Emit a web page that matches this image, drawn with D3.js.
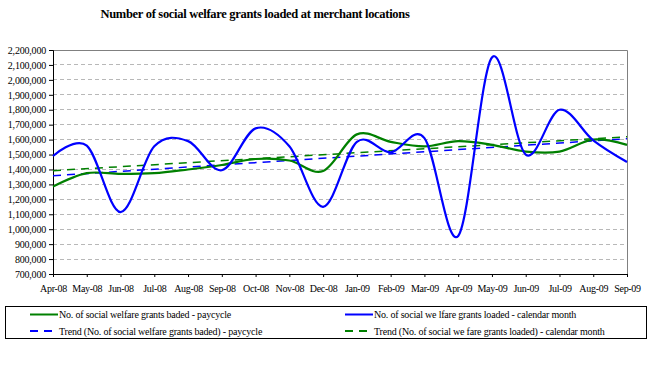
<!DOCTYPE html>
<html><head><meta charset="utf-8">
<script src="https://cdn.jsdelivr.net/npm/d3@7"></script>
<style>
body{margin:0;background:#fff;}
svg{display:block;font-family:"Liberation Serif","Times New Roman",serif;}
</style></head>
<body><svg id="c" width="662" height="366"></svg>
<script>
const months = ["Apr-08","May-08","Jun-08","Jul-08","Aug-08","Sep-08","Oct-08","Nov-08","Dec-08","Jan-09","Feb-09","Mar-09","Apr-09","May-09","Jun-09","Jul-09","Aug-09","Sep-09"];
const paycycle = [1285000,1375000,1370000,1375000,1400000,1430000,1470000,1460000,1390000,1635000,1585000,1555000,1590000,1565000,1520000,1520000,1600000,1565000];
const calendarMonth = [1490000,1560000,1115000,1555000,1590000,1395000,1675000,1555000,1150000,1585000,1515000,1610000,955000,2150000,1500000,1800000,1595000,1450000];
const trendPaycycle = [{m:"Apr-08",v:1358000},{m:"Sep-09",v:1606000}];
const trendCalendar = [{m:"Apr-08",v:1392000},{m:"Sep-09",v:1619000}];
const yTicks = [700000,800000,900000,1000000,1100000,1200000,1300000,1400000,1500000,1600000,1700000,1800000,1900000,2000000,2100000,2200000];
const title = "Number of social welfare grants loaded at merchant locations";
const legendItems = [
  {label:"No. of social welfare grants  baded - paycycle", color:"#008000", dash:null},
  {label:"No. of social we lfare grants  loaded - calendar month", color:"#0000FF", dash:null},
  {label:"Trend (No. of social welfare grants  baded) - paycycle", color:"#0000FF", dash:"8,6"},
  {label:"Trend (No. of social we fare grants  loaded) - calendar month", color:"#008000", dash:"8,6"}
];

const svg = d3.select("#c");
const L=53, R=627, T=50, B=274;
const x = d3.scalePoint().domain(months).range([L,R]).padding(0);
const y = d3.scaleLinear().domain([700000,2200000]).range([B,T]);

svg.append("text").attr("x",255).attr("y",18).attr("text-anchor","middle")
  .attr("font-size","12.5px").attr("font-weight","bold").attr("letter-spacing","-0.3").text(title);

// gridlines
svg.append("g").selectAll("line").data(yTicks.filter(d=>d>700000 && d<2200000)).join("line")
  .attr("x1",L).attr("x2",R).attr("y1",d=>y(d)).attr("y2",d=>y(d))
  .attr("stroke","#b8b8b8").attr("stroke-width",1).attr("stroke-dasharray","4,3").attr("shape-rendering","crispEdges");

// plot border top/right
svg.append("path").attr("d",`M${L},${T+0.5}H${R+0.5}V${B}`).attr("fill","none").attr("stroke","#808080").attr("stroke-width",1);

// axes
const yAxis = d3.axisLeft(y).tickValues(yTicks).tickFormat(d3.format(",")).tickSize(4).tickPadding(3);
const gy = svg.append("g").attr("transform",`translate(${L},0)`).call(yAxis).attr("font-family",null);
gy.select(".domain").attr("stroke","#000");
gy.selectAll("text").attr("font-size","10px").attr("letter-spacing","-0.2");

const xAxis = d3.axisBottom(x).tickSize(3).tickPadding(8);
const gx = svg.append("g").attr("transform",`translate(0,${B})`).call(xAxis).attr("font-family",null);
gx.select(".domain").attr("stroke","#000");
gx.selectAll("text").attr("font-size","10px").attr("letter-spacing","-0.3");

// trends
const tline = d3.line().x(d=>x(d.m)).y(d=>y(d.v));
svg.append("path").datum(trendCalendar).attr("d",tline).attr("fill","none").attr("stroke","#008000").attr("stroke-width",1.5).attr("stroke-dasharray","8,6");
svg.append("path").datum(trendPaycycle).attr("d",tline).attr("fill","none").attr("stroke","#0000FF").attr("stroke-width",1.5).attr("stroke-dasharray","8,6");

// series
const sline = d3.line().x((d,i)=>x(months[i])).y(d=>y(d)).curve(d3.curveCatmullRom.alpha(0));
svg.append("path").datum(paycycle).attr("d",sline).attr("fill","none").attr("stroke","#008000").attr("stroke-width",2.2);
svg.append("path").datum(calendarMonth).attr("d",sline).attr("fill","none").attr("stroke","#0000FF").attr("stroke-width",2.2);

// legend
svg.append("rect").attr("x",5.5).attr("y",306.5).attr("width",641).attr("height",32).attr("fill","none").attr("stroke","#000").attr("stroke-width",1);
const pos = [[30,314.5],[345,314.5],[30,331],[345,331]];
legendItems.forEach((it,i)=>{
  const [lx,ly]=pos[i];
  svg.append("line").attr("x1",lx).attr("x2",lx+28).attr("y1",ly).attr("y2",ly)
    .attr("stroke",it.color).attr("stroke-width",2).attr("stroke-dasharray",it.dash);
  svg.append("text").attr("x",lx+29).attr("y",ly+3.5).attr("font-size","10px").attr("letter-spacing","-0.2").text(it.label);
});
</script></body></html>
